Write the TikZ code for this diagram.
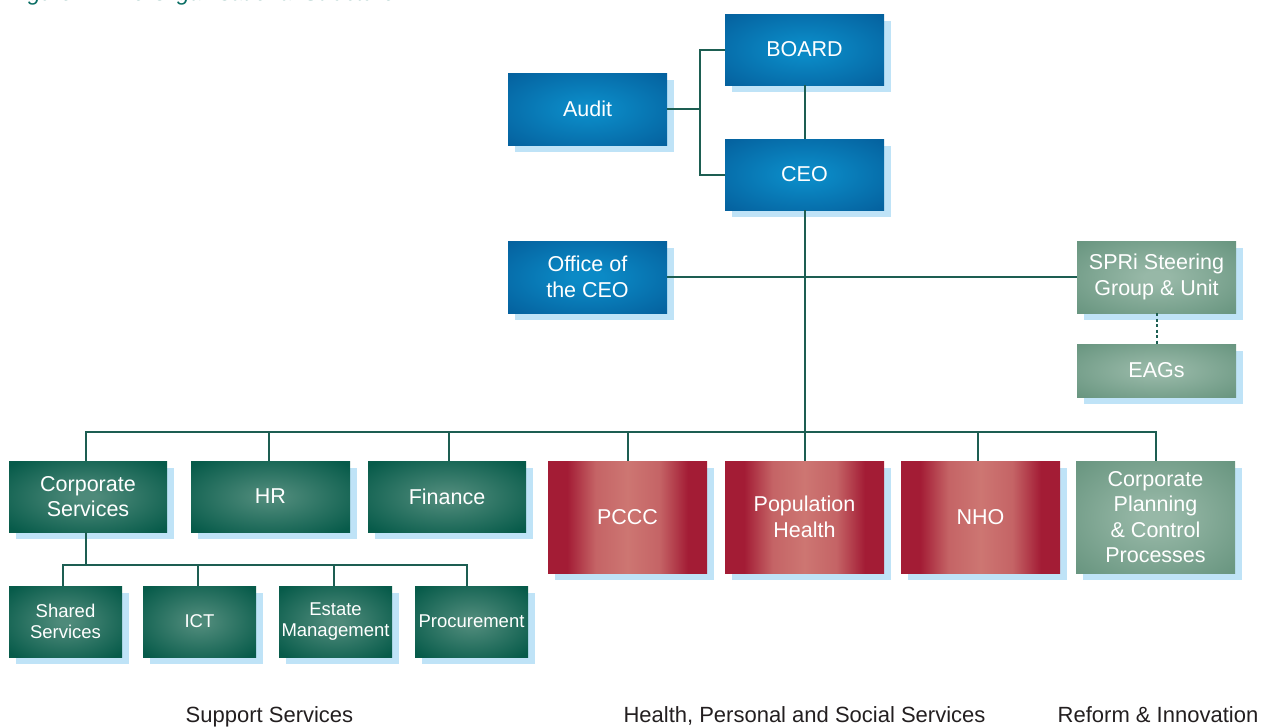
\documentclass[tikz,border=0pt]{standalone}
\usepackage{fontspec}
\setmainfont{Liberation Sans}
\usetikzlibrary{shadows}

% palette
\definecolor{bluein}{HTML}{0B8AC6}
\definecolor{blueout}{HTML}{045D9A}
\definecolor{dgreenin}{HTML}{4E8A7A}
\definecolor{dgreenout}{HTML}{075B4A}
\definecolor{redin}{HTML}{CD7672}
\definecolor{redout}{HTML}{A31C35}
\definecolor{lgreenin}{HTML}{97B8A7}
\definecolor{lgreenout}{HTML}{64927C}
\definecolor{shadowblue}{HTML}{BFE3F7}
\definecolor{linkcol}{HTML}{1D5E52}
\definecolor{captioncol}{HTML}{0A6E64}
\definecolor{labelcol}{HTML}{231F20}

% soft glows for the box fills
\pgfdeclareradialshading{blueglow}{\pgfpoint{0bp}{0bp}}{color(0bp)=(bluein); color(5bp)=(bluein); color(38bp)=(blueout); color(50bp)=(blueout)}
\pgfdeclareradialshading{dgreenglow}{\pgfpoint{0bp}{0bp}}{color(0bp)=(dgreenin); color(3bp)=(dgreenin); color(33bp)=(dgreenout); color(50bp)=(dgreenout)}
\pgfdeclareradialshading{lgreenglow}{\pgfpoint{0bp}{0bp}}{color(0bp)=(lgreenin); color(4bp)=(lgreenin); color(38bp)=(lgreenout); color(50bp)=(lgreenout)}
\pgfdeclarehorizontalshading{redband}{100bp}{color(0bp)=(redout); color(31bp)=(redout); color(40bp)=(redin!80!redout); color(50bp)=(redin); color(60bp)=(redin!80!redout); color(69bp)=(redout); color(100bp)=(redout)}

\tikzset{
  box/.style={inner sep=0pt, align=center, text=white,
    font=\fontsize{21.5}{25.5}\selectfont,
    general shadow={fill=shadowblue, shadow xshift=7pt, shadow yshift=-7pt}},
  bigbox/.style={box, minimum width=159pt, minimum height=72pt},
  smallbox/.style={box, minimum width=113pt, minimum height=71pt,
    font=\fontsize{18.5}{21}\selectfont},
  blueunit/.style={shading=blueglow, shade},
  supportunit/.style={shading=dgreenglow, shade},
  reformunit/.style={shading=lgreenglow, shade},
  healthunit/.style={shading=redband, shade, minimum height=112pt},
  link/.style={draw=linkcol, line width=2pt},
  grouplabel/.style={anchor=base, inner sep=0pt, text=labelcol,
    font=\fontsize{22}{25}\selectfont},
}

\begin{document}
\begin{tikzpicture}[x=1pt, y=-1pt]
\useasboundingbox (0,0) rectangle (1261,726);

% caption running off the top edge
\begin{scope}
  \clip (0,0) rectangle (1261,726);
  \node[anchor=base west, inner sep=0pt, text=captioncol,
        font=\itshape\fontsize{22.6}{26}\selectfont] (caption) at (9,0.5)
        {Figure 1: The Organisational Structure};
\end{scope}

% governance
\node[bigbox, blueunit, minimum height=71pt] (board) at (804.5,49.5) {BOARD};
\node[bigbox, blueunit] (audit) at (587.5,109) {Audit};
\node[bigbox, blueunit, minimum height=71pt] (ceo) at (804.5,174.5) {CEO};
\node[bigbox, blueunit] (office) at (587.5,277) {Office of\\the CEO};
\node[bigbox, reformunit] (spri) at (1156.5,277) {SPRi Steering\\Group \& Unit};
\node[bigbox, reformunit, minimum height=53pt] (eags) at (1156.5,370.5) {EAGs};

% directorates
\node[bigbox, supportunit, minimum width=158pt, minimum height=71pt] (corpserv) at (88,496.5) {Corporate\\Services};
\node[bigbox, supportunit, minimum height=71pt] (hr) at (270.5,496.5) {HR};
\node[bigbox, supportunit, minimum width=158pt, minimum height=71pt] (finance) at (447,496.5) {Finance};
\node[bigbox, healthunit] (pccc) at (627.5,517) {PCCC};
\node[bigbox, healthunit] (pophealth) at (804.5,517) {Population\\Health};
\node[bigbox, healthunit] (nho) at (980.5,517) {NHO};
\node[bigbox, reformunit, minimum height=112pt] (corpplan) at (1155.5,517) {Corporate\\Planning\\\& Control\\Processes};

% corporate services units
\node[smallbox, supportunit] (shared) at (65.5,621.5) {Shared\\Services};
\node[smallbox, supportunit] (ict) at (199.5,621.5) {ICT};
\node[smallbox, supportunit] (estate) at (335.5,621.5) {Estate\\Management};
\node[smallbox, supportunit] (procure) at (471.5,621.5) {Procurement};

% junctions
\coordinate (ajoin) at (700,109);
\coordinate (bus) at (804.5,432);
\coordinate (sbus) at (86,565);

% connectors
\draw[link] (audit.east) -- (ajoin);
\draw[link] (board.west) -| (ajoin) |- (ceo.west);
\draw[link] (board.south) -- (ceo.north);
\draw[link] (ceo.south) -- (bus);
\draw[link] (office.east) -- (spri.west);
\draw[draw=linkcol, line width=2pt, dash pattern=on 3pt off 2.5pt] (spri.south) -- (eags.north);

\draw[link] ([xshift=-2pt]corpserv.north) |- (bus);
\draw[link] ([xshift=-1.5pt]hr.north) |- (bus);
\draw[link] ([xshift=2pt]finance.north) |- (bus);
\draw[link] (pccc.north) |- (bus);
\draw[link] (pophealth.north) -- (bus);
\draw[link] ([xshift=-2.5pt]nho.north) |- (bus);
\draw[link] (corpplan.north) |- (bus);

\draw[link] ([xshift=-2pt]corpserv.south) -- (sbus);
\draw[link] ([xshift=-2.5pt]shared.north) |- (sbus);
\draw[link] ([xshift=-1.5pt]ict.north) |- (sbus);
\draw[link] ([xshift=-1.5pt]estate.north) |- (sbus);
\draw[link] ([xshift=-4.5pt]procure.north) |- (sbus);

% group headings
\node[grouplabel] (lsupport) at (269.5,722) {Support Services};
\node[grouplabel] (lhealth) at (804.5,722) {Health, Personal and Social Services};
\node[grouplabel] (lreform) at (1158,722) {Reform \& Innovation};
\end{tikzpicture}
\end{document}
